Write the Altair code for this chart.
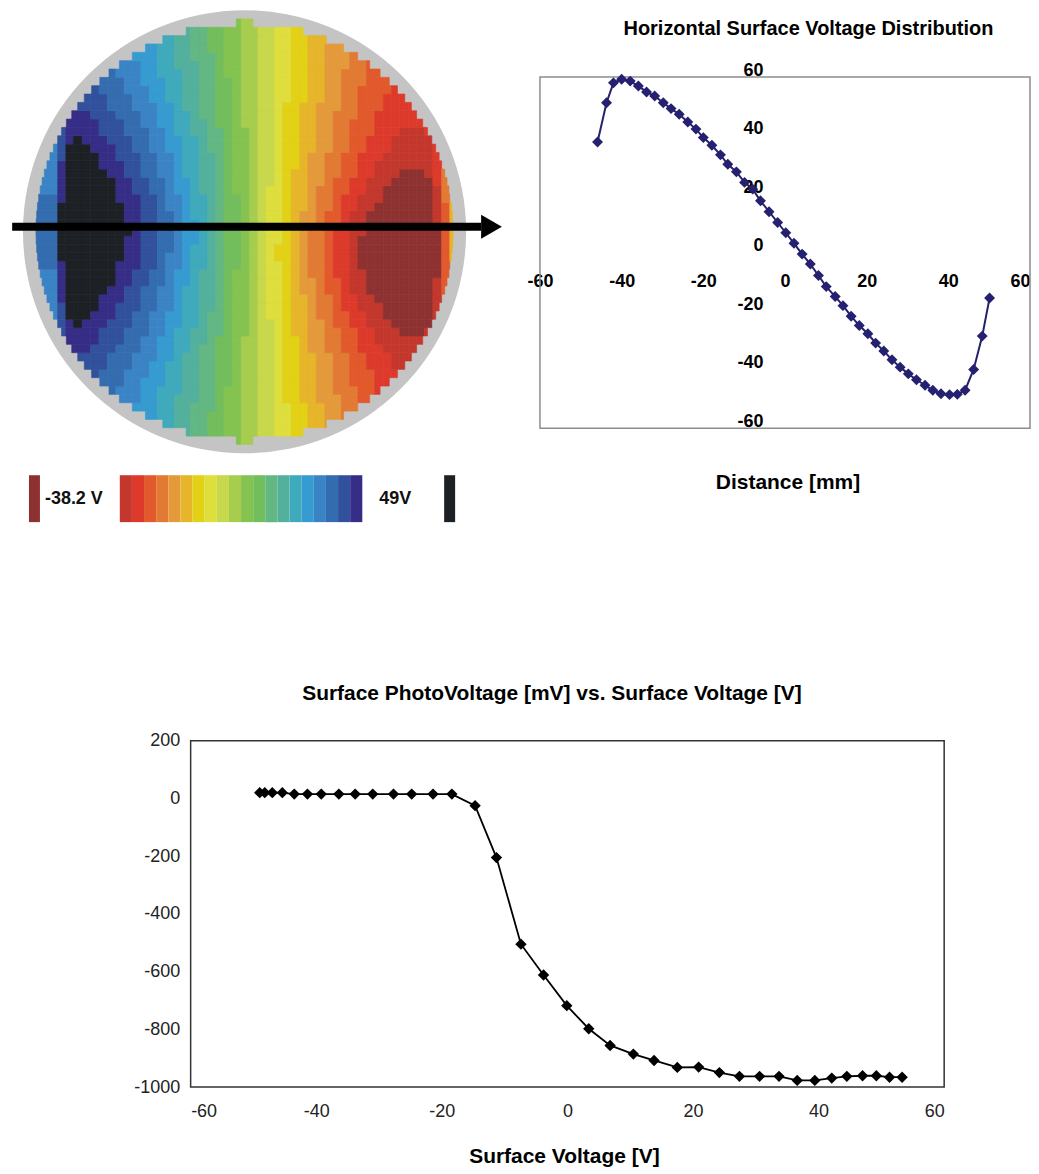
import altair as alt
import numpy as np
import pandas as pd

# ---------------- data ----------------
# Horizontal surface-voltage profile (top-right chart, and the wafer map's centre row)
DIST_MM = [-45.9, -43.7, -42.0, -40.0, -37.9, -35.9, -33.9, -31.9, -29.8, -27.9,
           -25.9, -23.8, -21.8, -20.0, -17.9, -15.8, -14.0, -11.9, -9.9, -7.9,
           -6.0, -3.9, -1.8, 0.2, 2.2, 4.2, 6.2, 8.2, 10.1, 12.3,
           14.2, 16.2, 18.2, 20.3, 22.2, 24.2, 26.2, 28.2, 30.2, 32.2,
           34.3, 36.2, 38.2, 40.3, 42.2, 44.1, 46.2, 48.3, 50.1]
SURF_V = [37.8, 51.2, 58.0, 59.2, 58.6, 56.9, 54.9, 53.5, 51.2, 49.2,
          47.3, 44.6, 42.2, 39.3, 36.7, 33.4, 30.2, 27.6, 24.0, 21.7,
          17.7, 14.0, 10.3, 6.8, 3.2, -0.5, -3.9, -7.8, -11.6, -15.0,
          -18.1, -21.7, -24.9, -27.7, -30.9, -33.6, -36.6, -39.1, -41.4, -43.4,
          -45.3, -47.0, -48.2, -48.5, -48.4, -47.0, -39.9, -28.5, -15.5]

# Wafer map rows (mm from centre) and the relative strength of the map on each row,
# for the positive-voltage (left) lobe and the negative-voltage (right) lobe
ROW_Y_MM = [-50, -48, -46, -44, -42, -40, -38, -36, -34, -32, -30, -28, -26,
            -24, -22, -20, -18, -16, -14, -12, -10, -8, -6, -4, -2, 0,
            2, 4, 6, 8, 10, 12, 14, 16, 18, 20, 22, 24, 26, 28, 30,
            32, 34, 36, 38, 40, 42, 44, 46, 48, 50]
ROW_FACTOR_POS = [0.62, 0.63, 0.64, 0.65, 0.66, 0.675, 0.69, 0.705, 0.72, 0.735, 0.75, 0.77, 0.79,
                  0.81, 0.83, 0.85, 0.865, 0.88, 0.90, 0.92, 0.94, 0.955, 0.97, 0.985, 0.995, 1.0,
                  0.995, 0.985, 0.97, 0.955, 0.94, 0.92, 0.90, 0.88, 0.865, 0.85, 0.83, 0.81, 0.79,
                  0.77, 0.75, 0.735, 0.72, 0.705, 0.69, 0.675, 0.66, 0.65, 0.64, 0.63, 0.62]
ROW_FACTOR_NEG = [0.612, 0.622, 0.632, 0.643, 0.655, 0.667, 0.68, 0.695, 0.71, 0.725, 0.74, 0.76, 0.78,
                  0.805, 0.83, 0.855, 0.88, 0.905, 0.93, 0.95, 0.97, 0.985, 0.995, 0.995, 0.985, 0.97,
                  0.95, 0.93, 0.905, 0.88, 0.855, 0.83, 0.805, 0.78, 0.76, 0.74, 0.725, 0.71, 0.695,
                  0.68, 0.667, 0.655, 0.643, 0.632, 0.622, 0.612, 0.603, 0.595, 0.587, 0.58, 0.573]

# Colour legend of the wafer map
LEGEND_MIN_V = -38.2
LEGEND_MAX_V = 49.0
N_BANDS = 20
LEGEND_LABELS = ["-38.2 V", "49V"]

# Surface photovoltage vs surface voltage (bottom chart)
SV_V = [-49.0, -48.2, -47.0, -45.4, -43.5, -41.4, -39.2, -36.4, -33.8, -31.0,
        -27.7, -24.8, -21.4, -18.4, -14.7, -11.3, -7.4, -3.8, -0.1, 3.4,
        6.8, 10.5, 13.8, 17.5, 20.9, 24.2, 27.4, 30.6, 33.7, 36.6,
        39.4, 42.1, 44.5, 47.0, 49.2, 51.3, 53.3]
SPV_MV = [20, 20, 20, 20, 15, 15, 15, 15, 15, 15,
          15, 15, 15, 15, -25, -205, -505, -612, -718, -798,
          -856, -886, -908, -932, -931, -950, -963, -963, -963, -977,
          -977, -969, -963, -961, -961, -966, -966]

TITLE_TOP = "Horizontal Surface Voltage Distribution"
XTITLE_TOP = "Distance [mm]"
TITLE_BOTTOM = "Surface PhotoVoltage [mV] vs. Surface Voltage [V]"
XTITLE_BOTTOM = "Surface Voltage [V]"
TOP_TICKS = [-60, -40, -20, 0, 20, 40, 60]
BOTTOM_X_TICKS = [-60, -40, -20, 0, 20, 40, 60]
BOTTOM_Y_TICKS = [-1000, -800, -600, -400, -200, 0, 200]

# ---------------- styles ----------------
FONT = "Liberation Sans, Arial, Helvetica, sans-serif"
BAND_COLORS = ["#c4372c", "#dd3a2c", "#e2592b", "#e27a33", "#e49a3a",
               "#e6b52a", "#e2d115", "#dede3c", "#c8d84c", "#a6cd4e",
               "#85c351", "#72bd5c", "#62b783", "#52b09d", "#3eaabb",
               "#359bd0", "#3a84c6", "#346cb0", "#31519c", "#352d86"]
BELOW_COLOR = "#8e3131"
ABOVE_COLOR = "#1d2025"
RING_COLOR = "#c4c4c4"
NAVY = "#25206f"
PLAIN_LABEL = "'' + datum.value"   # hyphen-minus, no thousands separator

# ---------------- layout (pixels, chart origin = page (8, 8)) ----------------
TOP_W, TOP_H = 1022, 522
PX_PER_MM = 4.18
WCX, WCY = 235, 223           # wafer centre
WAFER_R_MM = 50
RING_R_PX = 222
R_X0, R_X1 = 531, 1022        # right chart frame
R_Y_TOP, R_Y_BOT = 68, 420
CB_X0, CB_X1 = 110, 353       # colour bar
CB_Y_TOP, CB_Y_BOT = 467, 514
B_W, B_H = 936, 347           # bottom chart
B_X0 = 181
GAP = 211

# ---------------- wafer map ----------------
thresholds = [LEGEND_MIN_V + k * (LEGEND_MAX_V - LEGEND_MIN_V) / N_BANDS for k in range(N_BANDS + 1)]
color_scale = alt.Scale(type="threshold", domain=thresholds,
                        range=[BELOW_COLOR] + BAND_COLORS + [ABOVE_COLOR])

xs = np.array(DIST_MM)
mids = (xs[:-1] + xs[1:]) / 2
x_lo = np.concatenate([[-WAFER_R_MM - 1.0], mids])
x_hi = np.concatenate([mids, [WAFER_R_MM + 1.0]])
half_row = (ROW_Y_MM[1] - ROW_Y_MM[0]) / 2
cells = []
for yc, fp, fn in zip(ROW_Y_MM, ROW_FACTOR_POS, ROW_FACTOR_NEG):
    if abs(yc) > WAFER_R_MM:
        continue
    chord = float(np.sqrt(max(WAFER_R_MM ** 2 - yc ** 2, 0.0)))
    chord = max(chord, 2.0)
    for i in range(len(xs)):
        lo, hi = max(x_lo[i], -chord), min(x_hi[i], chord)
        if hi - lo > 0.3:
            f = fp if SURF_V[i] > 0 else fn
            cells.append({"x0": float(lo), "x1": float(hi),
                          "y0": yc - half_row, "y1": yc + half_row,
                          "v": round(SURF_V[i] * f, 2)})
cells_df = pd.DataFrame(cells)

xw = alt.Scale(domain=[-WAFER_R_MM, WAFER_R_MM],
               range=[WCX - WAFER_R_MM * PX_PER_MM, WCX + WAFER_R_MM * PX_PER_MM], nice=False, zero=False)
yw = alt.Scale(domain=[-WAFER_R_MM, WAFER_R_MM],
               range=[WCY + WAFER_R_MM * PX_PER_MM, WCY - WAFER_R_MM * PX_PER_MM], nice=False, zero=False)

ring = alt.Chart(pd.DataFrame({"x": [0.0], "y": [0.0]})).mark_circle(
    size=(2 * RING_R_PX) ** 2, color=RING_COLOR, opacity=1
).encode(x=alt.X("x:Q", scale=xw, axis=None), y=alt.Y("y:Q", scale=yw, axis=None))

cell_layer = alt.Chart(cells_df).mark_rect(strokeWidth=0.6).encode(
    x=alt.X("x0:Q", scale=xw, axis=None), x2="x1:Q",
    y=alt.Y("y0:Q", scale=yw, axis=None), y2="y1:Q",
    color=alt.Color("v:Q", scale=color_scale, legend=None),
    stroke=alt.Stroke("v:Q", scale=color_scale, legend=None),
)

# scan-direction arrow across the wafer
ARROW_Y_MM = 1.2
arrow_df = pd.DataFrame({"x": [-55.7], "x2": [56.7], "y": [ARROW_Y_MM]})
arrow_line = alt.Chart(arrow_df).mark_rule(strokeWidth=8, color="black", strokeCap="butt").encode(
    x=alt.X("x:Q", scale=xw, axis=None), x2="x2:Q", y=alt.Y("y:Q", scale=yw, axis=None))
head_df = pd.DataFrame({"x": [59.2], "y": [ARROW_Y_MM]})
arrow_head = alt.Chart(head_df).mark_point(shape="triangle-right", size=576, filled=True,
                                           color="black", opacity=1).encode(
    x=alt.X("x:Q", scale=xw, axis=None), y=alt.Y("y:Q", scale=yw, axis=None))

wafer = alt.layer(ring, cell_layer, arrow_line, arrow_head)

# ---------------- colour bar ----------------
band_w = (LEGEND_MAX_V - LEGEND_MIN_V) / N_BANDS
v_per_px = (LEGEND_MAX_V - LEGEND_MIN_V) / (CB_X1 - CB_X0)
def px_to_v(px):
    return LEGEND_MIN_V + (px - CB_X0) * v_per_px

bar_rows = [{"x0": LEGEND_MIN_V + k * band_w, "x1": LEGEND_MIN_V + (k + 1) * band_w,
             "cv": LEGEND_MIN_V + (k + 0.5) * band_w, "yb": 0, "yt": 1} for k in range(N_BANDS)]
bar_rows.append({"x0": px_to_v(19), "x1": px_to_v(30), "cv": LEGEND_MIN_V - 1, "yb": 0, "yt": 1})
bar_rows.append({"x0": px_to_v(435), "x1": px_to_v(446), "cv": LEGEND_MAX_V + 1, "yb": 0, "yt": 1})
bar_df = pd.DataFrame(bar_rows)
lab_df = pd.DataFrame({"x": [px_to_v(35), px_to_v(370)], "y": [0.5, 0.5], "label": LEGEND_LABELS})

xc = alt.Scale(domain=[LEGEND_MIN_V, LEGEND_MAX_V], range=[CB_X0, CB_X1], nice=False, zero=False)
yc_ = alt.Scale(domain=[0, 1], range=[CB_Y_BOT, CB_Y_TOP], nice=False, zero=False)
cbar = alt.Chart(bar_df).mark_rect().encode(
    x=alt.X("x0:Q", scale=xc, axis=None), x2="x1:Q",
    y=alt.Y("yb:Q", scale=yc_, axis=None), y2="yt:Q",
    color=alt.Color("cv:Q", scale=color_scale, legend=None),
)
clabels = alt.Chart(lab_df).mark_text(align="left", baseline="middle", font=FONT, fontSize=18,
                                      fontWeight="bold", color="#111111").encode(
    x=alt.X("x:Q", scale=xc, axis=None), y=alt.Y("y:Q", scale=yc_, axis=None), text="label:N")
colorbar = alt.layer(cbar, clabels)

# ---------------- top-right line chart ----------------
prof_df = pd.DataFrame({"d": DIST_MM, "v": SURF_V})
xr = alt.Scale(domain=[-60, 60], range=[R_X0, R_X1], nice=False, zero=False)
yr = alt.Scale(domain=[-60, 60], range=[R_Y_BOT, R_Y_TOP], nice=False, zero=False)
zero_y = R_Y_BOT - (R_Y_BOT - R_Y_TOP) / 2
zero_x = (R_X0 + R_X1) / 2

x_axis_r = alt.Axis(orient="bottom", values=TOP_TICKS, offset=-(TOP_H - zero_y), domain=False,
                    ticks=False, grid=False, labelPadding=20, labelFont=FONT, labelFontSize=18,
                    labelFontWeight="bold", labelColor="black", labelOverlap=False,
                    labelExpr=PLAIN_LABEL,
                    labelAlign={"condition": {"test": "datum.value === 60", "value": "right"},
                                "value": "center"},
                    title=XTITLE_TOP, titleX=779, titleY=230, titleBaseline="middle",
                    titleAlign="center", titleFont=FONT, titleFontSize=21, titleFontWeight="bold",
                    titleColor="black")
y_axis_r = alt.Axis(orient="left", values=TOP_TICKS, offset=-zero_x, domain=False, ticks=False,
                    grid=False, labelPadding=22, labelOffset=-7, labelFont=FONT, labelFontSize=18,
                    labelFontWeight="bold", labelColor="black", labelOverlap=False,
                    labelExpr=PLAIN_LABEL, title=None)

frame_r = alt.Chart(pd.DataFrame({"x": [-60], "x2": [60], "y": [-60], "y2": [60]})).mark_rect(
    fillOpacity=0, stroke="#8c8c8c", strokeWidth=1.5).encode(
    x=alt.X("x:Q", scale=xr, axis=x_axis_r), x2="x2:Q",
    y=alt.Y("y:Q", scale=yr, axis=y_axis_r), y2="y2:Q")
line_r = alt.Chart(prof_df).mark_line(color=NAVY, strokeWidth=2).encode(
    x=alt.X("d:Q", scale=xr), y=alt.Y("v:Q", scale=yr))
pts_r = alt.Chart(prof_df).mark_point(shape="diamond", filled=True, size=120, color=NAVY, opacity=1).encode(
    x=alt.X("d:Q", scale=xr), y=alt.Y("v:Q", scale=yr))
profile = alt.layer(frame_r, line_r, pts_r)

top = alt.layer(wafer, colorbar, profile).resolve_scale(
    x="independent", y="independent", color="independent", stroke="independent"
).properties(
    width=TOP_W, height=TOP_H,
    title=alt.TitleParams(TITLE_TOP, anchor="middle", frame="group", dx=289, offset=-30,
                          font=FONT, fontSize=20, fontWeight="bold", color="black"),
)

# ---------------- bottom chart ----------------
spv_df = pd.DataFrame({"sv": SV_V, "spv": SPV_MV})
xb = alt.Scale(domain=[-60, 60], range=[B_X0, B_W], nice=False, zero=False)
yb = alt.Scale(domain=[-1000, 200], nice=False, zero=False)
x_axis_b = alt.Axis(orient="bottom", values=BOTTOM_X_TICKS, domain=False, ticks=False, grid=False,
                    labelPadding=16, labelFont=FONT, labelFontSize=18, labelColor="#222222",
                    labelOverlap=False, labelExpr=PLAIN_LABEL,
                    title=XTITLE_BOTTOM, titleX=555, titleY=70,
                    titleBaseline="middle", titleAlign="center", titleFont=FONT, titleFontSize=21,
                    titleFontWeight="bold", titleColor="black")
y_axis_b = alt.Axis(orient="left", values=BOTTOM_Y_TICKS, offset=-B_X0, domain=False, ticks=False,
                    grid=False, labelPadding=11, labelFont=FONT, labelFontSize=18,
                    labelColor="#222222", labelOverlap=False, labelExpr=PLAIN_LABEL, title=None)
frame_b = alt.Chart(pd.DataFrame({"x": [-60], "x2": [60], "y": [-1000], "y2": [200]})).mark_rect(
    fillOpacity=0, stroke="#333333", strokeWidth=1.5).encode(
    x=alt.X("x:Q", scale=xb, axis=x_axis_b), x2="x2:Q",
    y=alt.Y("y:Q", scale=yb, axis=y_axis_b), y2="y2:Q")
line_b = alt.Chart(spv_df).mark_line(color="black", strokeWidth=1.8).encode(
    x=alt.X("sv:Q", scale=xb), y=alt.Y("spv:Q", scale=yb))
pts_b = alt.Chart(spv_df).mark_point(shape="diamond", filled=True, size=130, color="black", opacity=1).encode(
    x=alt.X("sv:Q", scale=xb), y=alt.Y("spv:Q", scale=yb))
bottom = alt.layer(frame_b, line_b, pts_b).properties(
    width=B_W, height=B_H,
    title=alt.TitleParams(TITLE_BOTTOM, anchor="middle", frame="group", dx=75, offset=28,
                          font=FONT, fontSize=21, fontWeight="bold", color="black"),
)

chart = alt.vconcat(top, bottom, spacing=GAP, bounds="flush").properties(
    padding=0, background="white"
).configure_view(strokeWidth=0)

chart.save("out.html", embed_options={"renderer": "svg", "actions": False})
